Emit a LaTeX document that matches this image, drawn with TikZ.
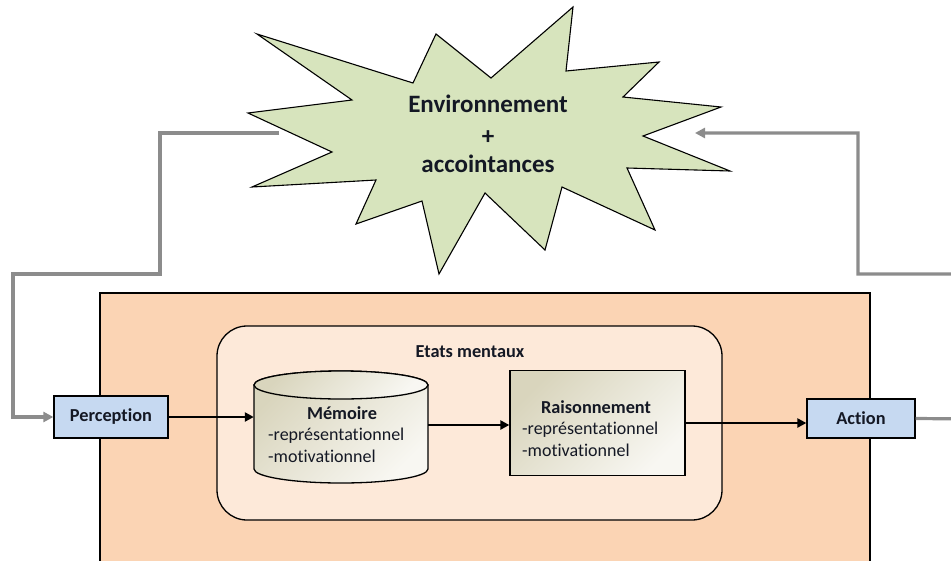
\documentclass[tikz,border=0pt]{standalone}
\usepackage{fontspec}
\setmainfont{Carlito}[Ligatures=NoCommon]
\usetikzlibrary{arrows.meta}

\definecolor{agentfill}{HTML}{FBD4B4}
\definecolor{mentalfill}{HTML}{FDE9D9}
\definecolor{ioblue}{HTML}{C6D9F1}
\definecolor{envgreen}{HTML}{D7E4BD}
\definecolor{linkgray}{HTML}{8C8C8C}
\definecolor{stoneA}{HTML}{D9D5BD}
\definecolor{stoneB}{HTML}{F8F7F2}
\definecolor{ink}{HTML}{141824}

\tikzset{
  iobox/.style={draw=black, line width=1.3pt, fill=ioblue, inner sep=0pt,
    font=\bfseries\fontsize{18.3}{21}\selectfont, text=ink},
  stonefill/.style={left color=stoneA, right color=stoneB, shading angle=45},
  flow/.style={line width=2.6pt, -{Triangle[length=9pt,width=9pt]}},
  feedback/.style={line width=3.2pt, draw=linkgray,
    -{Triangle[length=10pt,width=10pt]}},
  title/.style={font=\bfseries\fontsize{18.3}{21}\selectfont, text=ink, inner sep=0pt},
  detail/.style={font=\fontsize{18}{21.5}\selectfont, text=ink, inner sep=0pt,
    align=left},
}

\begin{document}
\begin{tikzpicture}[x=1pt,y=-1pt]
\useasboundingbox (0,0) rectangle (951,560);
\clip (0,0) rectangle (951,560);

% agent body
\draw[fill=agentfill, line width=1.3pt] (100,293) rectangle (870,600);
% mental states frame
\draw[fill=mentalfill, line width=1.3pt, rounded corners=30pt] (217,326) rectangle (722,520);
\node[title] (etats) at (470,352) {Etats mentaux};

% environment burst
\draw[fill=envgreen, line width=1.1pt, line join=miter]
  (257,34) -- (413,83) -- (436,34) -- (491,78) -- (573,7) -- (566,71)
  -- (659,62) -- (623,97) -- (721,107) -- (643,136) -- (730,171)
  -- (627,168) -- (655,230) -- (562,187) -- (545,250) -- (485,193)
  -- (439,274) -- (422,201) -- (356,224) -- (376,180) -- (252,187)
  -- (332,152) -- (248,113) -- (352,100) -- cycle;
\node[font=\bfseries\fontsize{25}{30}\selectfont, text=ink, align=center, inner sep=0pt]
  (env) at (488,134) {Environnement\\[2pt]+\\[-2pt]accointances};
\coordinate (envL) at (279,133);
\coordinate (envR) at (695,133);

% perception and action
\node[iobox, minimum width=114pt, minimum height=42pt] (perc) at (111,417) {Perception};
\node[iobox, minimum width=108pt, minimum height=39pt] (act) at (861,418.5) {Action};

% memory store (cylinder)
\node[minimum width=174pt, minimum height=112pt, inner sep=0pt] (mem) at (341,425) {};
\shade[stonefill, draw=black, line width=1.3pt]
  (254,385) -- (254,469) arc[start angle=180, end angle=0, x radius=87, y radius=14]
  -- (428,385) arc[start angle=0, end angle=-180, x radius=87, y radius=14] -- cycle;
\shade[stonefill, draw=black, line width=1.3pt] (341,385) ellipse[x radius=87, y radius=14];
\node[title] (memT) at (342,413) {Mémoire};
\node[detail, anchor=north west] (memD) at (268,428) {-représentationnel\\-motivationnel};

% reasoning
\node[stonefill, draw=black, line width=1.3pt, minimum width=175pt, minimum height=105pt,
  inner sep=0pt] (reason) at (597.5,423) {};
\node[title] (reasT) at (596,407) {Raisonnement};
\node[detail, anchor=north west] (reasD) at (522,422) {-représentationnel\\-motivationnel};

% internal flow
\draw[flow] (perc.east) -- (perc.east -| mem.west);
\draw[flow] (mem.east) -- (mem.east -| reason.west);
\draw[flow] (reason.east) -- (reason.east -| act.west);

% loop with the environment
\draw[feedback, line join=miter] (envL) -- (160,133) -- (160,274) -- (13,274) -- (13,417) -- (perc.west);
\draw[feedback, line join=miter] (act.east) -- (975,419) -- (975,274) -- (858,274) -- (858,133) -- (envR);
\end{tikzpicture}
\end{document}
